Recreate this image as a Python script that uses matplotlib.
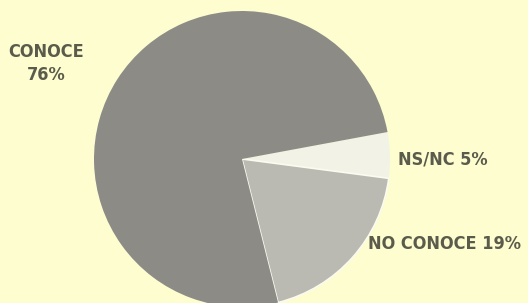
import matplotlib
matplotlib.use("Agg")
import matplotlib.pyplot as plt

# slices, clockwise from the NS/NC wedge
labels = ["NS/NC", "NO CONOCE", "CONOCE"]
shares = [5, 19, 76]
colors = ["#f3f2e6", "#bab9b2", "#8c8b86"]

bg = "#fdfdd0"
txt = "#5b5b4c"

fig = plt.figure(figsize=(5.28, 3.03), dpi=100)
fig.patch.set_facecolor(bg)
ax = fig.add_axes([0, 0, 1, 1])
ax.set_facecolor(bg)

wedges, _ = ax.pie(shares, colors=colors, startangle=10.5, counterclock=False,
                   center=(242, 144), radius=148, frame=True,
                   wedgeprops=dict(linewidth=0))
ax.set_xlim(0, 528)
ax.set_ylim(0, 303)
ax.set_aspect("equal")
ax.axis("off")
# white seam on the NO CONOCE wedge
wedges[1].set_edgecolor("#fbfbf0")
wedges[1].set_linewidth(1.2)

font = dict(family="DejaVu Sans", stretch="condensed", weight="bold",
            color=txt, fontsize=13)
ax.text(46, 251, labels[2], ha="center", va="center", **font)
ax.text(46, 228, f"{shares[2]}%", ha="center", va="center", **font)
ax.text(443, 144, f"{labels[0]} {shares[0]}%", ha="center", va="center", **font)
ax.text(445, 59, f"{labels[1]} {shares[1]}%", ha="center", va="center", **font)

fig.savefig("out.png", dpi=100, facecolor=bg)
